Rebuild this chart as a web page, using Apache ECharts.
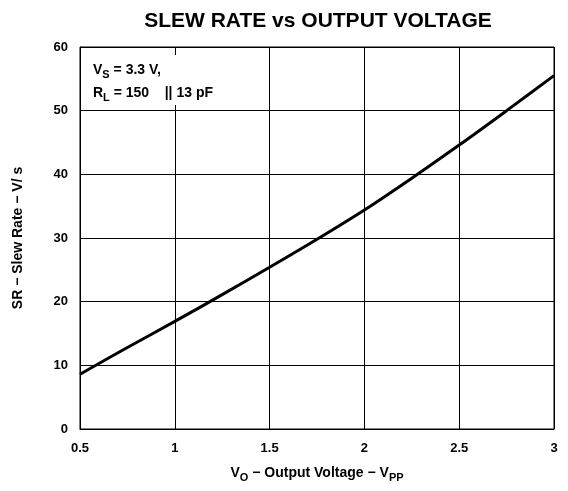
<!DOCTYPE html>
<html><head><meta charset="utf-8">
<script src="https://cdn.jsdelivr.net/npm/echarts@6/dist/echarts.min.js"></script>
<style>html,body{margin:0;padding:0;background:#fff}#c{width:568px;height:491px}</style>
</head><body><div id="c"></div>
<script>
const xValues = [0.5, 0.75, 1.0, 1.25, 1.5, 1.75, 2.0, 2.25, 2.5, 2.75, 3.0];
const slewRate = [8.6, 12.8, 16.9, 21.1, 25.4, 29.8, 34.4, 39.4, 44.6, 50.0, 55.5];
const xTicks = [0.5, 1, 1.5, 2, 2.5, 3];
const yTicks = [0, 10, 20, 30, 40, 50, 60];

const F = 'Liberation Sans, Arial, Helvetica, sans-serif';
const chart = echarts.init(document.getElementById('c'), null, {renderer: 'canvas'});
chart.setOption({
  animation: false,
  title: {
    text: 'SLEW RATE vs OUTPUT VOLTAGE',
    left: 313, top: 6, textAlign: 'center',
    textStyle: {fontFamily: F, fontWeight: 'bold', fontSize: 21, color: '#000'}
  },
  grid: {left: 80, right: 14, top: 47, bottom: 62, show: true, borderColor: '#000', borderWidth: 1},
  xAxis: {
    type: 'value', min: 0.5, max: 3, interval: 0.5,
    axisLine: {show: true, lineStyle: {color: '#000'}},
    axisTick: {show: false},
    splitLine: {show: true, lineStyle: {color: '#000', width: 1}},
    axisLabel: {fontFamily: F, fontWeight: 'bold', fontSize: 13, color: '#000', margin: 13,
      formatter: v => xTicks.includes(v) ? String(v) : ''},
    name: 'V{sub|O} − Output Voltage − V{sub|PP}',
    nameLocation: 'middle', nameGap: 34,
    nameTextStyle: {fontFamily: F, fontWeight: 'bold', fontSize: 14, color: '#000',
      rich: {sub: {fontFamily: F, fontWeight: 'bold', fontSize: 11, color: '#000', padding: [9, 0, 0, 0]}}}
  },
  yAxis: {
    type: 'value', min: 0, max: 60, interval: 10,
    axisLine: {show: true, lineStyle: {color: '#000'}},
    axisTick: {show: false},
    splitLine: {show: true, lineStyle: {color: '#000', width: 1}},
    axisLabel: {fontFamily: F, fontWeight: 'bold', fontSize: 13, color: '#000', margin: 12,
      formatter: v => yTicks.includes(v) ? String(v) : ''},
    name: 'SR − Slew Rate − V/ s',
    nameLocation: 'middle', nameGap: 55,
    nameTextStyle: {fontFamily: F, fontWeight: 'bold', fontSize: 14, color: '#000'}
  },
  graphic: [{
    type: 'rect', left: 81, top: 55, z: 10,
    shape: {width: 172, height: 50},
    style: {fill: '#fff'}
  }, {
    type: 'text', left: 93, top: 59, z: 11,
    style: {
      text: 'V{sub|S} = 3.3 V,\nR{sub|L} = 150    || 13 pF',
      fontFamily: F, fontWeight: 'bold', fontSize: 14, fill: '#000', lineHeight: 23,
      rich: {sub: {fontFamily: F, fontWeight: 'bold', fontSize: 11, fill: '#000', padding: [8, 0, 0, 0]}}
    }
  }],
  series: [{
    type: 'line', data: xValues.map((x, i) => [x, slewRate[i]]),
    smooth: 0.3, showSymbol: false,
    lineStyle: {color: '#000', width: 3}
  }]
});
</script></body></html>
